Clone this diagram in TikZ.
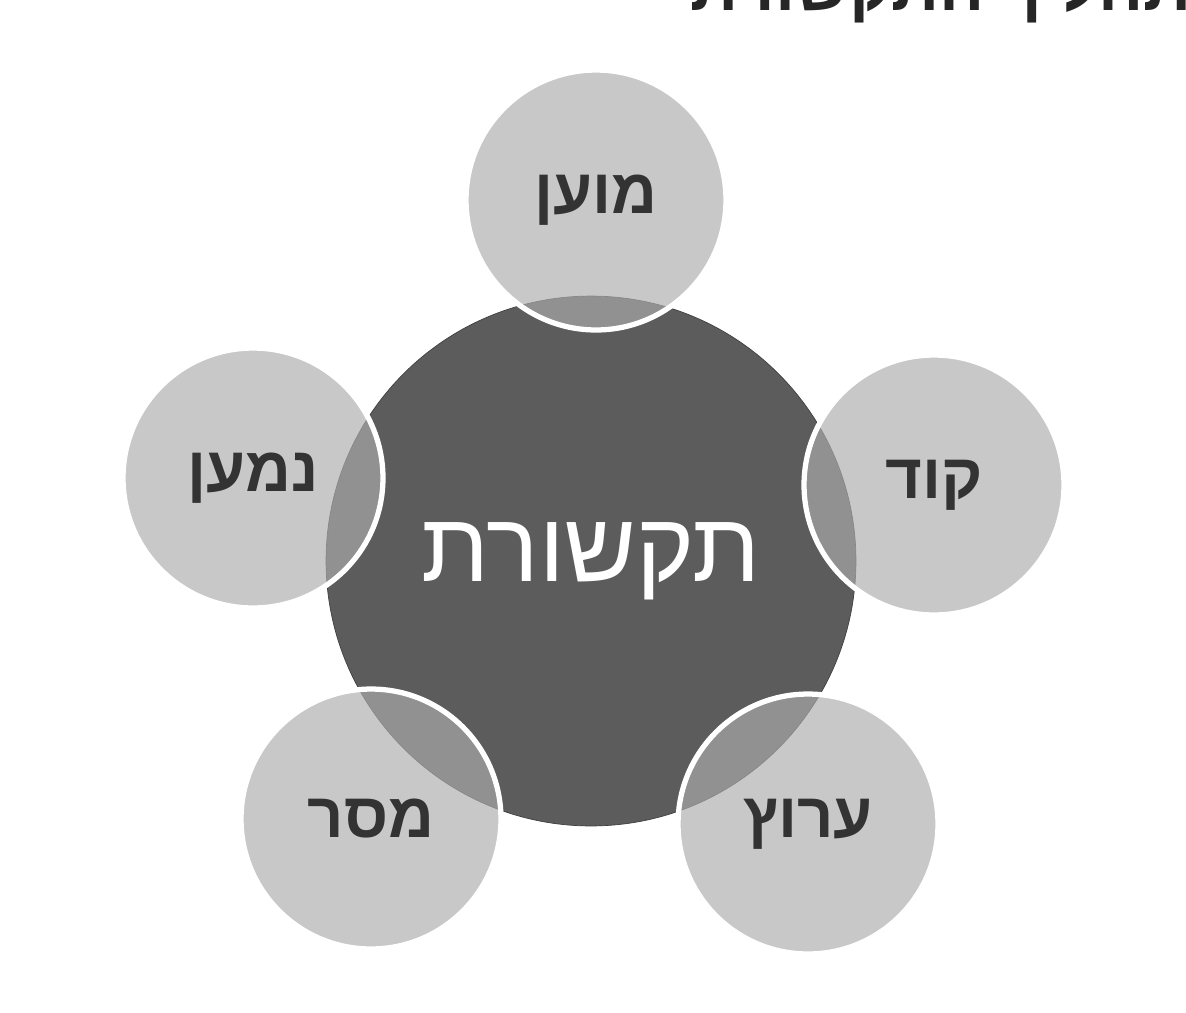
\documentclass[tikz,border=0pt]{standalone}
\usepackage{fontspec}
\newfontfamily\hebfont[Script=Hebrew]{Liberation Sans}
\TeXXeTstate=1
\usepackage{tikz}
\usepackage{xcolor}
\usetikzlibrary{shapes}

\begin{document}
\begin{tikzpicture}[x=0.02cm,y=-0.02cm]
			\tikzstyle{hub}=[circle,minimum size=10.6cm,draw=black!75,thin,fill=black!64,text=white,font=\hebfont\fontsize{56}{60}\selectfont]
			\tikzstyle{part}=[circle,minimum size=5.2cm,draw=white,line width=3pt,fill=black!32,fill opacity=.66,text opacity=1,text=black!80,font=\hebfont\bfseries\fontsize{36}{40}\selectfont]
			\tikzstyle{title}=[anchor=base east,inner sep=0pt,text=black!85,font=\hebfont\bfseries\fontsize{38}{42}\selectfont]
			
			\useasboundingbox (0,0) rectangle (1186,1012);
			\fill[white] (0,0) rectangle (1186,1012);
			
			% title, cut off by the page edge
			\node [title] (heading) at (1192,10) {\beginR תהליך התקשורת\endR};
			
			\node [hub] (center) at (591,561) {\beginR תקשורת\endR};
			
			\node [part] (top) at (596,200) {\beginR מוען\endR};
			\node [part] (right) at (934,485) {\beginR קוד\endR};
			\node [part] (lowright) at (808,824) {\beginR ערוץ\endR};
			\node [part] (lowleft) at (371,819) {\beginR מסר\endR};
			\node [part] (left) at (253,478) {\beginR נמען\endR};
\end{tikzpicture}
\end{document}
